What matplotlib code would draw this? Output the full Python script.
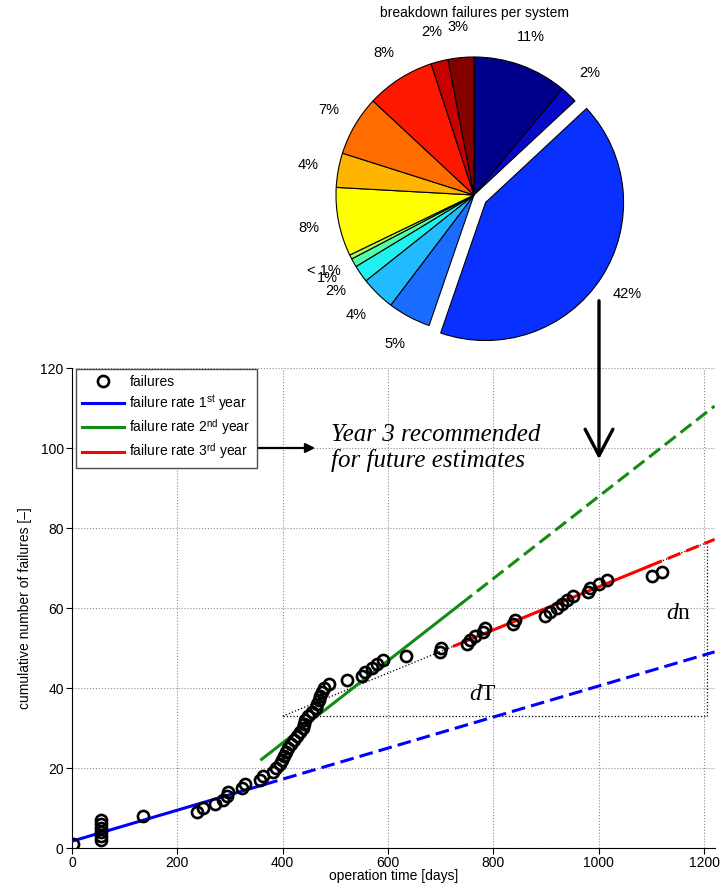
import numpy as np
import matplotlib
matplotlib.use("Agg")
import matplotlib.pyplot as plt

plt.rcParams['font.family'] = ['Liberation Sans', 'DejaVu Sans']
plt.rcParams['mathtext.fontset'] = 'custom'
plt.rcParams['mathtext.rm'] = 'Liberation Sans'
plt.rcParams['mathtext.it'] = 'Liberation Serif:italic'

# share of breakdown failures per system [%]
pie_shares = [11, 2, 42, 5, 4, 2, 1, 0.5, 8, 4, 7, 8, 2, 3]
pie_labels = ['11%', '2%', '42%', '5%', '4%', '2%', '1%', '< 1%',
              '8%', '4%', '7%', '8%', '2%', '3%']
pie_colors = ['#00008a', '#0808c8', '#0a30ff', '#1a6cff', '#20bcff', '#20f0ee',
              '#50ffa8', '#a8ff5a', '#ffff00', '#ffb400', '#ff6c00', '#ff1800',
              '#c80000', '#840000']
pie_explode = [0, 0, 0.1, 0, 0, 0, 0, 0, 0, 0, 0, 0, 0, 0]

# operation day of each failure (cumulative count = index + 1)
fail_days = [1, 56, 56, 56, 56, 56, 56, 134, 237, 249,
             272, 287, 294, 297, 322, 328, 357, 363, 382, 388,
             394, 398, 402, 406, 411, 416, 421, 428, 433, 438,
             440, 442, 448, 456, 464, 466, 468, 471, 474, 478,
             487, 523, 550, 556, 570, 579, 591, 635, 699, 701,
             749, 756, 765, 781, 784, 838, 841, 898, 908, 920,
             930, 939, 952, 980, 984, 1000, 1015, 1101, 1120]
fail_count = np.arange(1, len(fail_days) + 1)

# linear fit n = offset + slope * t for each year of operation
fit_slope = [0.0388, 0.1027, 0.0539]
fit_offset = [1.7, -14.8, 11.4]
fit_start = [0, 360, 726]
fit_end = [365, 739, 1096]
fit_colors = ['#0000ff', '#148c14', '#ff0000']
fit_labels = [r'failure rate 1$^{\rm st}$ year',
              r'failure rate 2$^{\rm nd}$ year',
              r'failure rate 3$^{\rm rd}$ year']

# dT / dn triangle along the 3rd year fit
tri_t = [400, 1205]

x_max = 1220

fig = plt.figure(figsize=(7.2, 8.85), dpi=100)

# ---- main chart
ax = fig.add_axes([72 / 720, 1 - 848 / 885, 642.6 / 720, 480 / 885])
handles = []
for a, b, t0, t1, c, lab in zip(fit_offset, fit_slope, fit_start, fit_end,
                                fit_colors, fit_labels):
    ts = np.array([t0, t1])
    h, = ax.plot(ts, a + b * ts, color=c, lw=2.2, label=lab, zorder=3)
    td = np.array([t1, x_max])
    ax.plot(td, a + b * td, color=c, lw=2.2, ls=(0, (4.5, 2)), zorder=3)
    handles.append(h)

tt = np.array(tri_t)
n_tri = fit_offset[2] + fit_slope[2] * tt
ax.plot(tt, n_tri, color='k', lw=0.9, ls=':', zorder=2)
ax.plot(tt, [n_tri[0], n_tri[0]], color='k', lw=0.9, ls=':', zorder=2)
ax.plot([tt[1], tt[1]], n_tri, color='k', lw=0.9, ls=':', zorder=2)

pts, = ax.plot(fail_days, fail_count, 'o', ms=8, mfc='none', mec='k',
               mew=1.9, label='failures', zorder=4)

ax.set_xlim(0, x_max)
ax.set_ylim(0, 120)
ax.set_xticks(range(0, 1201, 200))
ax.set_yticks(range(0, 121, 20))
ax.tick_params(labelsize=10, direction='out', length=4, width=0.8, pad=2)
ax.grid(True, ls=':', color='0.55', lw=0.8)
for s in ['top', 'right']:
    ax.spines[s].set_visible(False)
for s in ['left', 'bottom']:
    ax.spines[s].set_linewidth(0.8)
ax.set_xlabel('operation time [days]', fontsize=10, labelpad=-1)
ax.set_ylabel('cumulative number of failures [\u2013]', fontsize=10, labelpad=6)

leg = ax.legend([pts] + handles, ['failures'] + fit_labels,
                loc='upper left', bbox_to_anchor=(0.006, 0.998),
                borderaxespad=0, fontsize=10, fancybox=False, framealpha=1,
                edgecolor='0.3', handlelength=3.0, handletextpad=0.4,
                labelspacing=0.3, borderpad=0.45)
leg.get_frame().set_linewidth(1.0)

ax.annotate('', xy=(467, 100), xytext=(348, 100),
            arrowprops=dict(arrowstyle='-|>', color='k', lw=1.6,
                            mutation_scale=14))
ax.text(492, 100.0, 'Year 3 recommended\nfor future estimates',
        family='Liberation Serif', style='italic', fontsize=18,
        ha='left', va='center', linespacing=1.2)
ax.text(781, 38.5, r'$d$T', family='Liberation Serif', fontsize=17,
        ha='center', va='center')
ax.text(1151, 58.7, r'$d$n', family='Liberation Serif', fontsize=17,
        ha='center', va='center')

# ---- pie chart
pax = fig.add_axes([274 / 720, 1 - 390 / 885, 400 / 720, 390 / 885])
wedges, texts = pax.pie(pie_shares, labels=pie_labels, colors=pie_colors,
                        explode=pie_explode, startangle=90, counterclock=False,
                        labeldistance=1.22,
                        wedgeprops=dict(edgecolor='k', linewidth=0.8),
                        textprops=dict(fontsize=10.5))
for t in texts:
    t.set_ha('center')
pax.set_aspect('auto')
pax.set_xlim(-200 / 138, 200 / 138)
pax.set_ylim(-195 / 138, 195 / 138)
pax.axis('off')
fig.text(474 / 720, 1 - 13 / 885, 'breakdown failures per system',
         fontsize=10, ha='center', va='center')

# down arrow from the pie to the chart
fig.add_artist(matplotlib.patches.FancyArrowPatch(
    (599 / 720, 1 - 298 / 885), (599 / 720, 1 - 462 / 885),
    transform=fig.transFigure, arrowstyle='->, head_length=0.95, head_width=0.5',
    mutation_scale=20, lw=2.4, color='k'))

fig.savefig('out.png', dpi=100)
